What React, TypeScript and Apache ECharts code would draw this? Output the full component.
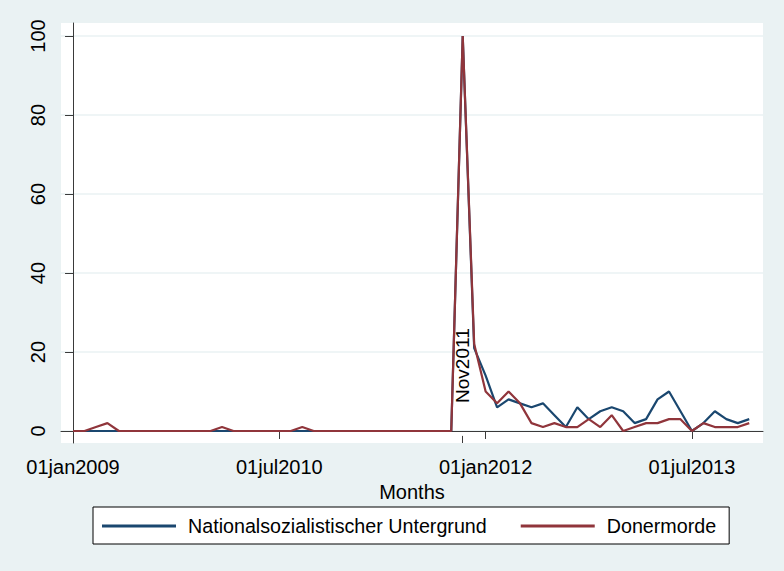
import React, { useEffect, useRef } from "react";
import * as echarts from "echarts";

// Monthly Google-Trends style index, Jan 2009 .. Dec 2013 (60 months)
const nsuValues = [
  0, 0, 0, 0, 0, 0, 0, 0, 0, 0, 0, 0,
  0, 0, 0, 0, 0, 0, 0, 0, 0, 0, 0, 0,
  0, 0, 0, 0, 0, 0, 0, 0, 0, 0, 100, 21,
  14, 6, 8, 7, 6, 7, 4, 1, 6, 3, 5, 6,
  5, 2, 3, 8, 10, 5, 0, 2, 5, 3, 2, 3,
];
const donerValues = [
  0, 0, 1, 2, 0, 0, 0, 0, 0, 0, 0, 0,
  0, 1, 0, 0, 0, 0, 0, 0, 1, 0, 0, 0,
  0, 0, 0, 0, 0, 0, 0, 0, 0, 0, 100, 22,
  10, 7, 10, 7, 2, 1, 2, 1, 1, 3, 1, 4,
  0, 1, 2, 2, 3, 3, 0, 2, 1, 1, 1, 2,
];
const seriesNames = ["Nationalsozialistischer Untergrund", "Donermorde"];
const seriesColors = ["#1a476f", "#90353b"];
const xTickMonths = [0, 18, 36, 54];
const xTickLabels = ["01jan2009", "01jul2010", "01jan2012", "01jul2013"];
const yTicks = [0, 20, 40, 60, 80, 100];
const markerMonth = 34;
const markerLabel = "Nov2011";

const FONT = "'Liberation Sans', Arial, Helvetica, sans-serif";
const BG = "#EAF2F3";
const AXIS = "#3a3a3a";

export default function App() {
  const ref = useRef<HTMLDivElement>(null);

  useEffect(() => {
    if (!ref.current) return;
    const chart = echarts.init(ref.current, null, { renderer: "svg" });
    const yMin = -3.04;
    const yMax = 103.3;
    const toPairs = (arr: number[]) => arr.map((v, i) => [i, v]);
    const labelFor = (v: number) => {
      const idx = xTickMonths.indexOf(Math.round(v));
      return idx >= 0 ? xTickLabels[idx] : "";
    };
    const lineIcon = "path://M0 0 H74 V3 H0 Z";
    chart.setOption({
      animation: false,
      backgroundColor: BG,
      textStyle: { fontFamily: FONT },
      grid: {
        left: 61,
        right: 21,
        top: 23,
        bottom: 128,
        show: true,
        backgroundColor: "#ffffff",
        borderWidth: 0,
      },
      xAxis: {
        type: "value",
        min: -1.05,
        max: 60.2,
        name: "Months",
        nameLocation: "middle",
        nameGap: 32,
        nameTextStyle: { fontSize: 20, color: "#000", fontFamily: FONT },
        axisLine: { show: true, lineStyle: { color: AXIS, width: 1 } },
        axisTick: { show: true, length: 8, lineStyle: { color: AXIS }, customValues: xTickMonths },
        axisLabel: {
          fontSize: 20,
          color: "#000",
          margin: 14,
          fontFamily: FONT,
          customValues: xTickMonths,
          formatter: (v: number) => labelFor(v),
        },
        splitLine: { show: false },
      },
      yAxis: {
        type: "value",
        min: yMin,
        max: yMax,
        axisLine: { show: true, lineStyle: { color: AXIS, width: 1 } },
        axisTick: { show: true, length: 8, lineStyle: { color: AXIS }, customValues: yTicks },
        axisLabel: {
          fontSize: 20,
          color: "#000",
          margin: 13,
          rotate: 90,
          fontFamily: FONT,
          customValues: yTicks,
          formatter: (v: number) => String(Math.round(v)),
        },
        splitLine: { show: true, lineStyle: { color: BG, width: 1.5 } },
      },
      legend: {
        left: 93,
        top: 507,
        orient: "horizontal",
        padding: [9, 13, 8, 9],
        itemGap: 34,
        itemWidth: 74,
        itemHeight: 20,
        backgroundColor: "#ffffff",
        borderColor: "#000",
        borderWidth: 1,
        borderRadius: 0,
        textStyle: {
          fontSize: 19.7,
          lineHeight: 20,
          color: "#000",
          fontFamily: FONT,
          padding: [0, 0, 0, 7],
        },
        data: seriesNames.map((n, i) => ({
          name: n,
          icon: lineIcon,
          itemStyle: { color: seriesColors[i], borderWidth: 0 },
        })),
      },
      series: [
        {
          name: seriesNames[0],
          type: "line",
          data: toPairs(nsuValues),
          symbol: "none",
          lineStyle: { color: seriesColors[0], width: 2.2 },
          itemStyle: { color: seriesColors[0] },
          z: 2,
        },
        {
          name: seriesNames[1],
          type: "line",
          data: toPairs(donerValues),
          symbol: "none",
          lineStyle: { color: seriesColors[1], width: 2.2 },
          itemStyle: { color: seriesColors[1] },
          z: 3,
          markLine: {
            silent: true,
            symbol: ["none", "none"],
            label: { show: false },
            lineStyle: { color: AXIS, width: 1, type: "solid" },
            data: [[{ coord: [markerMonth, yMin] }, { coord: [markerMonth, yMin + 1.8] }]],
          },
          markPoint: {
            silent: true,
            symbol: "circle",
            symbolSize: 0,
            itemStyle: { color: "transparent" },
            label: {
              show: true,
              formatter: markerLabel,
              position: "inside",
              rotate: 90,
              align: "left",
              verticalAlign: "middle",
              fontSize: 19,
              color: "#000",
              fontFamily: FONT,
            },
            data: [{ coord: [markerMonth, 7.1] }],
          },
        },
      ],
    });
    return () => chart.dispose();
  }, []);

  return (
    <div
      ref={ref}
      style={{ position: "fixed", left: 0, top: 0, width: 784, height: 571 }}
    />
  );
}
